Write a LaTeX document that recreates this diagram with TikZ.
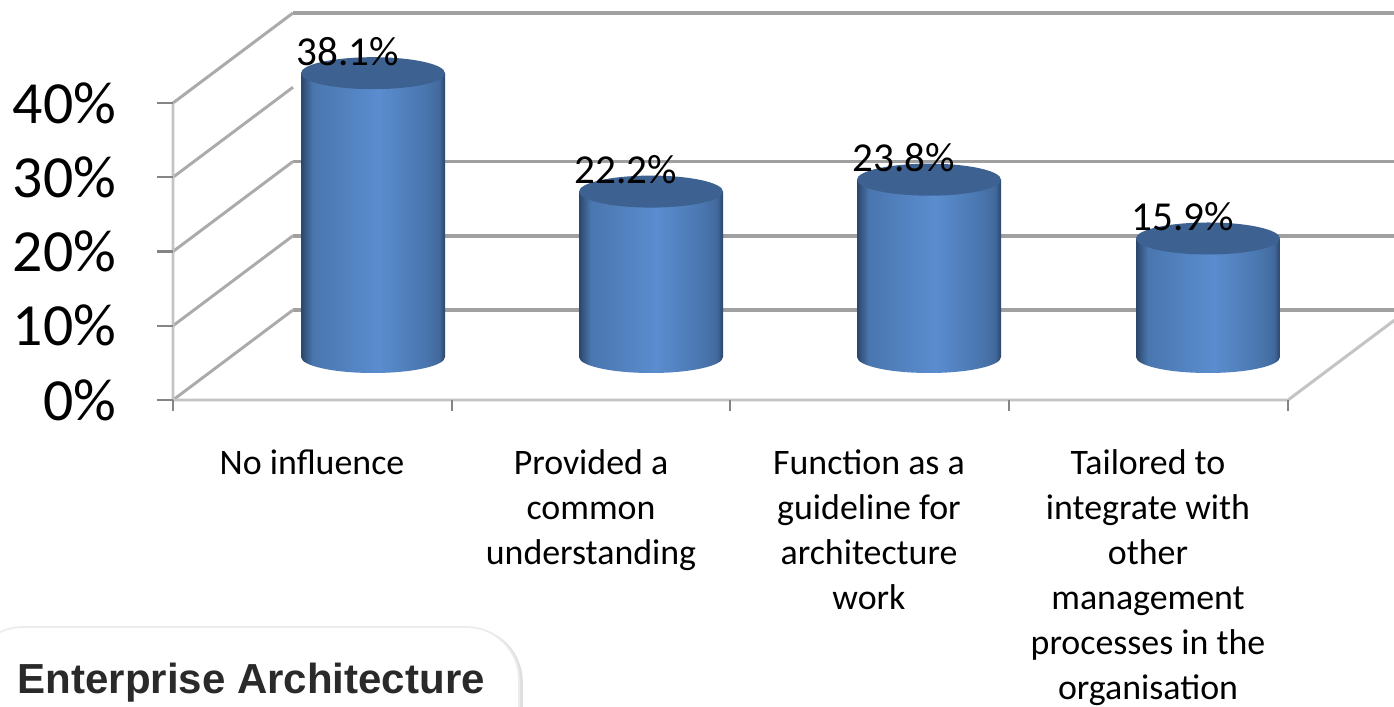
\documentclass[tikz,border=0pt]{standalone}
\usepackage{fontspec}
\setmainfont{Carlito}
\newfontfamily\headfont{Liberation Sans}
\usepackage{xcolor}
\usepackage{tikz}
\usetikzlibrary{positioning}
\definecolor{backgrid}{HTML}{A0A0A0}
\definecolor{frontaxis}{HTML}{C4C4C4}
\definecolor{tickgray}{HTML}{858585}
\definecolor{wallgray}{HTML}{ABABAB}
\definecolor{bardark}{HTML}{2B4669}
\definecolor{barmid}{HTML}{4A76AE}
\definecolor{barlight}{HTML}{5A8DCF}
\definecolor{barright}{HTML}{42699C}
\definecolor{bartop}{HTML}{3D6291}
\definecolor{headgray}{HTML}{2A2A2A}
\pgfdeclarehorizontalshading{cylside}{100bp}{color(0bp)=(bardark); color(25bp)=(bardark);
  color(29bp)=(barmid); color(52bp)=(barlight); color(68bp)=(barmid);
  color(73bp)=(barright); color(75bp)=(bardark); color(100bp)=(bardark)}
% #1 name, #2 centre x, #3 top y, #4 value
\newcommand{\cylbar}[4]{%
  \shade[shading=cylside]
    (#2-72,#3) -- (#2-72,357) arc (180:0:72 and 16) -- (#2+72,#3) -- cycle;
  \fill[bartop] (#2,#3) ellipse (72 and 16);
  \node[valtext] (#1) at (#2-25,#3-22) {#4};
}

\begin{document}
\begin{tikzpicture}[x=0.01cm, y=-0.01cm,
                    backline/.style={line width=1.1pt, backgrid},
                    frontline/.style={line width=0.85pt, frontaxis},
                    wallline/.style={line width=0.85pt, wallgray},
                    tickline/.style={line width=0.6pt, tickgray},
                    ylabel/.style={anchor=east, inner sep=0pt, font=\fontsize{17}{20}\selectfont},
                    valtext/.style={inner sep=0pt, font=\fontsize{11.7}{14}\selectfont},
                    cattext/.style={anchor=north, inner sep=0pt, align=center, font=\fontsize{10.2}{12.8}\selectfont},
                   ]

\useasboundingbox (0,0) rectangle (1394,707);
\fill[white] (0,0) rectangle (1394,707);
\clip (0,0) rectangle (1394,707);

\coordinate (o) at (173,400);
\coordinate (ob) at (293,310);

% back wall
\draw[backline] (293,13) -- (1420,13);
\draw[backline] (293,161.5) -- (1420,161.5);
\draw[backline] (293,235.75) -- (1420,235.75);
\draw[backline] (293,310) -- (1420,310);

% side wall
\draw[wallline] (173,103) -- (293,13);
\draw[wallline] (173,177.25) -- (293,87.25);
\draw[wallline] (173,251.5) -- (293,161.5);
\draw[wallline] (173,325.75) -- (293,235.75);
\draw[wallline] (o) -- (ob);

% floor and axis
\draw[frontline] (173,103) -- (o) -- (1288,400) -- (1408,310);

\draw[tickline] (157,103) -- (173,103);
\draw[tickline] (157,177.25) -- (173,177.25);
\draw[tickline] (157,251.5) -- (173,251.5);
\draw[tickline] (157,325.75) -- (173,325.75);
\draw[tickline] (157,400) -- (173,400);
\draw[tickline] (173,400) -- (173,411);
\draw[tickline] (452,400) -- (452,411);
\draw[tickline] (730,400) -- (730,411);
\draw[tickline] (1009,400) -- (1009,411);
\draw[tickline] (1288,400) -- (1288,411);

\node[ylabel] (y40) at (117,103) {40\%};
\node[ylabel] (y30) at (117,177.25) {30\%};
\node[ylabel] (y20) at (117,251.5) {20\%};
\node[ylabel] (y10) at (117,325.75) {10\%};
\node[ylabel] (y0) at (117,400) {0\%};

% bars
\cylbar{v1}{373}{73.2}{38.1\%}
\cylbar{v2}{651}{191.6}{22.2\%}
\cylbar{v3}{929}{179.7}{23.8\%}
\cylbar{v4}{1208}{238.5}{15.9\%}

\node[cattext] (c1) at (312,449) {No influence};
\node[cattext] (c2) at (591,449) {Provided a\\common\\understanding};
\node[cattext] (c3) at (869,449) {Function as a\\guideline for\\architecture\\work};
\node[cattext] (c4) at (1148,449) {Tailored to\\integrate with\\other\\management\\processes in the\\organisation};

% title tab
\draw[rounded corners=15, line width=1pt, gray!25] (-30,629) rectangle (521,760);
\draw[rounded corners=15, fill=white, draw=gray!15, line width=0.5pt] (-30,627) rectangle (519,760);
\node[anchor=base west, inner sep=0pt, text=headgray, font=\headfont\bfseries\fontsize{11.95}{14}\selectfont] (ea) at (17,693) {Enterprise Architecture};

\end{tikzpicture}
\end{document}
